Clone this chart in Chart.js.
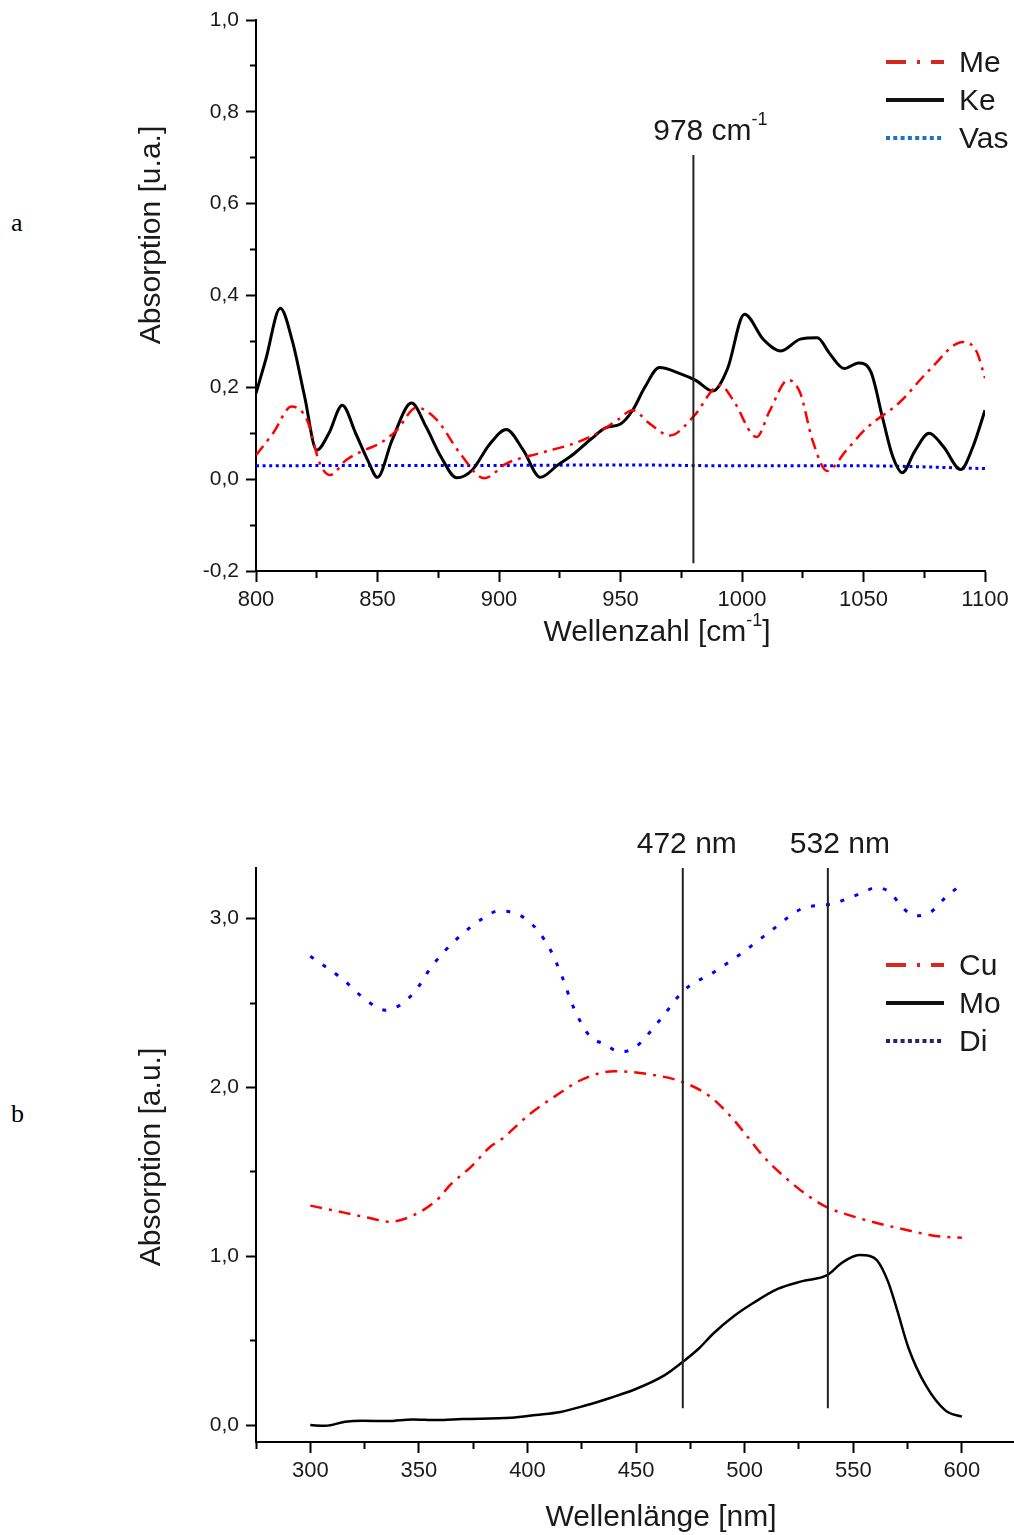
<!DOCTYPE html>
<html>
<head>
<meta charset="utf-8">
<script src="https://cdn.jsdelivr.net/npm/chart.js@4.4.0/dist/chart.umd.min.js"></script>
<style>
  html, body { margin: 0; padding: 0; background: #fff; overflow: hidden; }
  #page { position: relative; width: 1014px; height: 1535px; }
  canvas { position: absolute; left: 0; }
  #topChart { top: 0; }
  #botChart { top: 830px; }
  .panel { position: absolute; left: 11px; font: 26px "Liberation Serif", serif; line-height: 30px; color: #000; }
</style>
</head>
<body>
<div id="page">
  <div class="panel" style="top:208px">a</div>
  <div class="panel" style="top:1099px">b</div>
  <canvas id="topChart" width="1014" height="660"></canvas>
  <canvas id="botChart" width="1014" height="705"></canvas>
</div>
<script>
// --- panel a: IR absorption ---
const meX = [800, 807, 814.7, 821, 826.3, 830.5, 837, 844, 851, 858, 866, 874.4, 884, 894, 903, 917, 931, 942, 949,
             955, 962, 970.4, 980, 991, 996.4, 1006, 1011.5, 1019, 1024, 1029, 1035, 1043, 1051, 1065, 1077, 1091, 1096.6, 1100];
const meY = [0.052, 0.10, 0.158, 0.129, 0.034, 0.009, 0.041, 0.062, 0.078, 0.107, 0.156, 0.129, 0.056, 0.002, 0.034, 0.057, 0.078, 0.105, 0.13,
             0.15, 0.121, 0.095, 0.136, 0.205, 0.172, 0.092, 0.15, 0.216, 0.187, 0.085, 0.018, 0.063, 0.11, 0.168, 0.237, 0.299, 0.277, 0.22];

const keX = [800, 804, 810, 815, 820, 825, 830, 835.5, 841, 846, 850, 856, 864, 870, 876, 882.6, 889, 896, 903, 910, 917, 924, 931, 938,
             944, 950, 955, 960, 966, 974.5, 981, 988, 994, 1001, 1009, 1016, 1024, 1031, 1036, 1042, 1048, 1053, 1058, 1062, 1066,
             1071, 1077, 1083, 1090, 1095, 1100];
const keY = [0.187, 0.26, 0.372, 0.30, 0.18, 0.063, 0.10, 0.161, 0.10, 0.041, 0.004, 0.085, 0.166, 0.114, 0.05, 0.003, 0.02, 0.075, 0.108, 0.063, 0.004, 0.03, 0.056, 0.088,
             0.112, 0.12, 0.15, 0.2, 0.243, 0.23, 0.215, 0.192, 0.24, 0.359, 0.303, 0.279, 0.305, 0.308, 0.274, 0.241, 0.253, 0.234, 0.13, 0.05, 0.014,
             0.06, 0.1, 0.07, 0.021, 0.07, 0.15];

const vasX = [800, 850, 900, 950, 1000, 1050, 1100];
const vasY = [0.029, 0.030, 0.030, 0.031, 0.029, 0.029, 0.023];

const topXMajor = [800, 850, 900, 950, 1000, 1050, 1100];
const topXMinor = [825, 875, 925, 975, 1025, 1075];
const topYMajor = [-0.2, 0, 0.2, 0.4, 0.6, 0.8, 1.0];
const topYMinor = [-0.1, 0.1, 0.3, 0.5, 0.7, 0.9];

const topMarkerAt = [980];
const topMarkerText = [['978 cm', '-1']];
const topMarkerFrom = -0.183, topMarkerTo = 0.706;

// --- panel b: UV-Vis absorption ---
const cuX = [300, 315, 326, 336.5, 347, 358, 365, 374, 383, 388, 401, 412.6, 425.6, 440, 455, 471, 484, 494.7, 501, 508,
             517.5, 529, 538, 551.6, 563, 576.6, 588, 600];
const cuY = [1.30, 1.26, 1.23, 1.205, 1.24, 1.33, 1.43, 1.53, 1.65, 1.693, 1.842, 1.947, 2.05, 2.096, 2.08, 2.034, 1.947, 1.812, 1.713, 1.60,
             1.48, 1.36, 1.29, 1.23, 1.19, 1.15, 1.12, 1.11];

const moX = [300, 307, 316, 324, 335.7, 347, 358.4, 369.8, 392.5, 403.9, 415.2, 426.6, 438, 449.3, 463, 470.9, 478.9, 485.7, 494.8,
             503.9, 515.2, 526.6, 538, 544.8, 552.7, 557.5, 561, 566, 570, 575.5, 583.4, 592.5, 600];
const moY = [0.0, -0.004, 0.02, 0.026, 0.024, 0.034, 0.03, 0.036, 0.044, 0.06, 0.078, 0.116, 0.161, 0.211, 0.295, 0.369, 0.454, 0.544, 0.643,
             0.723, 0.807, 0.853, 0.888, 0.962, 1.008, 1.002, 0.975, 0.85, 0.69, 0.454, 0.235, 0.086, 0.05];

const diX = [300, 314, 327.5, 334.6, 347, 356.5, 367.6, 380, 386.8, 400, 410, 416, 421, 428.7, 435.6, 442.2, 449, 461, 472, 486,
             499, 513, 526.5, 539.6, 553.8, 560.4, 567, 572.3, 578.9, 585.8, 592, 600];
const diY = [2.777, 2.65, 2.50, 2.458, 2.551, 2.727, 2.882, 3.006, 3.046, 2.991, 2.828, 2.654, 2.48, 2.304, 2.256, 2.212, 2.232, 2.40, 2.575, 2.684,
             2.799, 2.937, 3.06, 3.086, 3.151, 3.183, 3.155, 3.07, 3.017, 3.04, 3.12, 3.205];

const botXMajor = [300, 350, 400, 450, 500, 550, 600];
const botXMinor = [275, 325, 375, 425, 475, 525, 575];
const botYMajor = [0, 1, 2, 3];
const botYMinor = [0.5, 1.5, 2.5];

const botMarkerAt = [471.5, 538.3];
const botMarkerText = [['472 nm'], ['532 nm']];
const botMarkerFrom = 0.1, botMarkerTo = 3.3;

const FONT = '"Liberation Sans", Arial, sans-serif';
const INK = '#1a1a1a';

function pts(xs, ys) {
    return xs.map(function(x, i) { return {x: x, y: ys[i]}; });
}

function comma(v) {
    return v.toFixed(1).replace('.', ',');
}

// ticks come from the named arrays, minor ones stay unlabelled
function setTicks(major, minor) {
    return function(scale) {
        scale.ticks = major.map(v => ({value: v, major: true}))
            .concat(minor.map(v => ({value: v, major: false})))
            .sort((a, b) => a.value - b.value);
    };
}

function xScale(min, max, major, minor, size, height) {
    return {
        type: 'linear', min: min, max: max,
        afterBuildTicks: setTicks(major, minor),
        afterFit: function(s) { s.height = height; s.paddingLeft = 0; s.paddingRight = 0; },
        border: {display: true, color: '#000', width: 2},
        grid: {
            drawOnChartArea: false, tickLength: 11, tickWidth: 2, tickColor: '#000',
            tickBorderDash: c => (c.tick && c.tick.major) ? [] : [6, 100]
        },
        ticks: {
            autoSkip: false, maxRotation: 0, padding: 5, color: INK,
            font: {family: FONT, size: size},
            callback: (v, i, t) => t[i].major ? String(v) : ''
        }
    };
}

function yScale(min, max, major, minor, size) {
    return {
        type: 'linear', min: min, max: max,
        afterBuildTicks: setTicks(major, minor),
        afterFit: function(s) { s.width = 256; s.paddingTop = 0; s.paddingBottom = 0; },
        border: {display: true, color: '#000', width: 2},
        grid: {
            drawOnChartArea: false, tickLength: 10, tickWidth: 2, tickColor: '#000',
            tickBorderDash: c => (c.tick && c.tick.major) ? [] : [0, 4, 6, 100]
        },
        ticks: {
            autoSkip: false, padding: 7, color: INK,
            font: {family: FONT, size: size},
            callback: (v, i, t) => t[i].major ? comma(v) : ''
        }
    };
}

// text with optional superscript: [main, sup, tail]
function drawParts(ctx, parts, x, y, size, align) {
    const sup = Math.round(size * 0.6);
    ctx.font = size + 'px ' + FONT;
    const w0 = ctx.measureText(parts[0]).width;
    const w2 = parts[2] ? ctx.measureText(parts[2]).width : 0;
    ctx.font = sup + 'px ' + FONT;
    const w1 = parts[1] ? ctx.measureText(parts[1]).width : 0;
    let left = align === 'center' ? x - (w0 + w1 + w2) / 2 : x;
    ctx.textAlign = 'left';
    ctx.textBaseline = 'middle';
    ctx.fillStyle = INK;
    ctx.font = size + 'px ' + FONT;
    ctx.fillText(parts[0], left, y);
    if (parts[1]) {
        ctx.font = sup + 'px ' + FONT;
        ctx.fillText(parts[1], left + w0, y - size * 0.4);
    }
    if (parts[2]) {
        ctx.font = size + 'px ' + FONT;
        ctx.fillText(parts[2], left + w0 + w1, y);
    }
}

const annotate = {
    id: 'annotate',
    afterDatasetsDraw(chart, args, o) {
        const ctx = chart.ctx, xs = chart.scales.x, ys = chart.scales.y;
        ctx.save();
        // vertical marker lines and their labels
        o.markers.forEach(function(m) {
            const px = xs.getPixelForValue(m.at);
            const top = ys.getPixelForValue(m.to);
            ctx.strokeStyle = '#222';
            ctx.lineWidth = 2;
            ctx.setLineDash([]);
            ctx.beginPath();
            ctx.moveTo(px, ys.getPixelForValue(m.from));
            ctx.lineTo(px, top);
            ctx.stroke();
            drawParts(ctx, m.text, px + m.dx, top - 23, 30, 'center');
        });
        // axis titles
        drawParts(ctx, o.xTitle.text, o.xTitle.x, o.xTitle.y, 30, 'center');
        ctx.save();
        ctx.translate(o.yTitle.x, o.yTitle.y);
        ctx.rotate(-Math.PI / 2);
        drawParts(ctx, [o.yTitle.text], 0, 0, 30, 'center');
        ctx.restore();
        // legend
        const lg = o.legend;
        chart.data.datasets.forEach(function(ds, i) {
            const y = lg.y + i * lg.gap;
            ctx.strokeStyle = ds.legendColor;
            ctx.lineWidth = ds.legendWidth;
            ctx.setLineDash(ds.legendDash);
            ctx.beginPath();
            ctx.moveTo(lg.x1, y);
            ctx.lineTo(lg.x2, y);
            ctx.stroke();
            drawParts(ctx, [ds.label], lg.tx, y + 2, 30, 'left');
        });
        ctx.restore();
    }
};

function lineSet(label, xs, ys, color, width, dash, legendColor, legendDash, legendWidth) {
    return {
        label: label, data: pts(xs, ys),
        borderColor: color, borderWidth: width, borderDash: dash,
        pointRadius: 0, cubicInterpolationMode: 'monotone', fill: false,
        legendColor: legendColor, legendDash: legendDash, legendWidth: legendWidth
    };
}

new Chart(document.getElementById('topChart').getContext('2d'), {
    type: 'line',
    data: {
        datasets: [
            lineSet('Me', meX, meY, '#ff0000', 2.5, [12, 6, 3, 6], '#d8281e', [20, 11, 3, 11], 4),
            lineSet('Ke', keX, keY, '#000000', 3, [], '#111111', [], 4),
            lineSet('Vas', vasX, vasY, '#0000ff', 3, [3, 3.6], '#1b75c4', [4, 3.3], 4)
        ]
    },
    options: {
        responsive: false,
        animation: false,
        layout: {padding: {top: 20, right: 29, left: 0, bottom: 0}},
        plugins: {
            legend: {display: false},
            tooltip: {enabled: false},
            annotate: {
                markers: topMarkerAt.map((at, i) => ({at: at, from: topMarkerFrom, to: topMarkerTo, text: topMarkerText[i], dx: 17})),
                xTitle: {text: ['Wellenzahl [cm', '-1', ']'], x: 657, y: 633},
                yTitle: {text: 'Absorption [u.a.]', x: 152, y: 235},
                legend: {x1: 886, x2: 944, tx: 959, y: 62, gap: 38}
            }
        },
        scales: {
            x: xScale(800, 1100, topXMajor, topXMinor, 22, 89),
            y: yScale(-0.2, 1.0, topYMajor, topYMinor, 21)
        }
    },
    plugins: [annotate]
});

new Chart(document.getElementById('botChart').getContext('2d'), {
    type: 'line',
    data: {
        datasets: [
            lineSet('Cu', cuX, cuY, '#ff0000', 2.5, [12, 7, 3, 7], '#d8281e', [20, 11, 3, 11], 4),
            lineSet('Mo', moX, moY, '#000000', 2.5, [], '#111111', [], 4),
            lineSet('Di', diX, diY, '#0000ff', 3, [4, 11], '#24246e', [4, 3.3], 4)
        ]
    },
    options: {
        responsive: false,
        animation: false,
        layout: {padding: {top: 38, right: 0, left: 0, bottom: 0}},
        plugins: {
            legend: {display: false},
            tooltip: {enabled: false},
            annotate: {
                markers: botMarkerAt.map((at, i) => ({at: at, from: botMarkerFrom, to: botMarkerTo, text: botMarkerText[i], dx: i === 0 ? 4 : 12})),
                xTitle: {text: ['Wellenlänge [nm]'], x: 661, y: 688},
                yTitle: {text: 'Absorption [a.u.]', x: 152, y: 327},
                legend: {x1: 886, x2: 944, tx: 959, y: 135, gap: 38}
            }
        },
        scales: {
            x: xScale(275, 624, botXMajor, botXMinor, 22, 93),
            y: yScale(-0.1, 3.3, botYMajor, botYMinor, 21)
        }
    },
    plugins: [annotate]
});
</script>
</body>
</html>
